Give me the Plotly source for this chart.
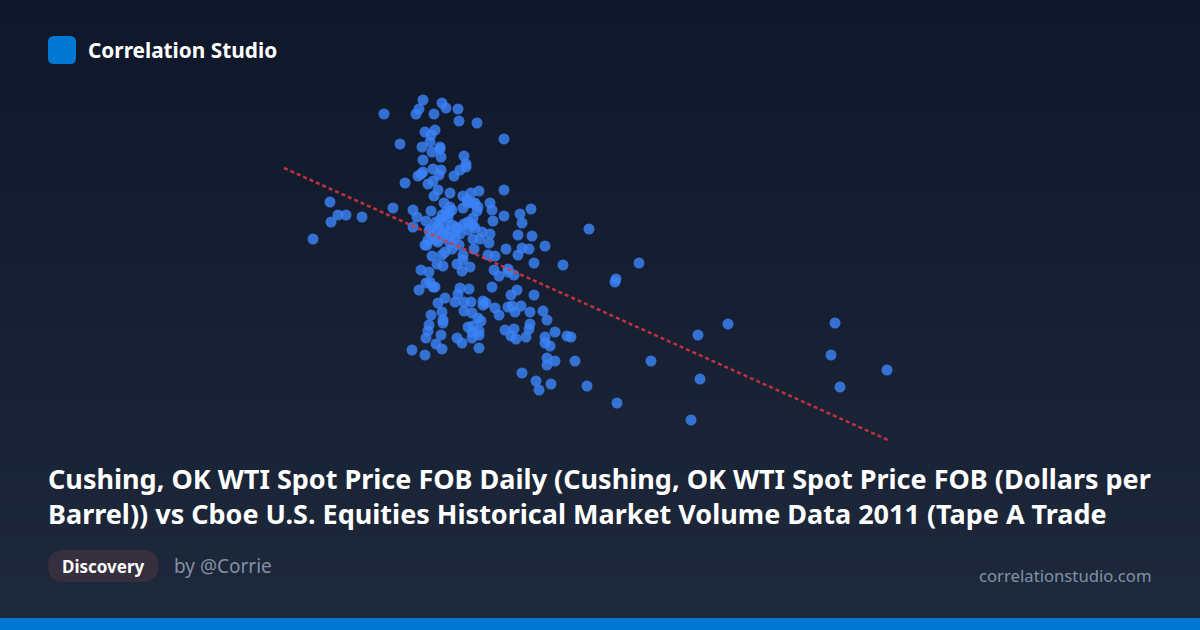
import plotly.graph_objects as go

# Values (chart has no visible axes; units are arbitrary score units)
x_values = [143,139,136,104,162,166,178,154,179,197,
            224,145,155,151,150,120,142,160,160,152,
            161,184,143,186,186,180,153,161,159,143,
            141,138,174,125,153,148,158,170,199,224,
            154,191,183,164,113,133,151,210,212,187,
            193,198,197,183,170,224,251,240,242,213,
            193,137,146,133,165,172,160,168,193,176,
            195,188,169,150,158,148,147,158,167,175,
            180,170,163,195,188,202,210,193,200,209,
            238,252,265,242,249,226,238,194,179,172,
            165,162,152,208,215,254,283,183,183,177,
            190,182,163,157,141,149,214,219,228,228,
            234,150,146,153,139,180,189,212,237,155,
            231,254,165,178,158,175,184,191,203,206,
            203,215,219,228,232,241,235,250,263,267,
            184,192,151,162,163,163,198,201,149,148,
            146,161,188,193,199,199,192,192,177,182,
            156,162,132,145,199,225,234,231,236,246,
            250,249,275,265,265,270,287,291,267,275,
            267,295,242,256,271,259,307,
            309,336,335,359,418,448,555,551,371,420,
            560,607,337,411,
            50,33,51,58,66,82,
            156,162,166,158,172,165,152,149,178,184,
            188,162,156,170,145,175]
y_values = [340,331,326,326,337,332,331,326,319,317,
            301,308,310,305,298,296,293,293,291,288,
            283,284,280,276,273,270,271,270,265,268,
            266,264,264,257,259,256,250,247,249,250,
            244,247,244,237,232,230,229,237,230,240,
            237,233,229,232,233,224,231,226,217,219,
            222,223,219,213,223,230,220,222,215,213,
            237,237,227,211,210,200,195,198,208,207,
            206,203,202,212,210,208,206,201,201,197,
            205,204,194,192,191,191,185,191,195,191,
            188,185,184,185,184,177,175,185,180,176,
            173,169,174,176,170,168,170,164,171,168,
            165,158,157,153,150,152,151,153,150,153,
            145,145,142,146,137,138,138,138,139,137,
            135,132,125,133,134,134,128,128,129,120,
            129,127,125,128,120,117,122,119,115,109,
            102,105,113,114,109,105,108,102,102,97,
            96,91,90,85,92,110,111,104,101,103,
            116,111,108,103,97,94,104,103,82,79,
            75,79,67,59,56,50,54,
            211,161,158,177,105,116,117,85,79,61,
            53,70,37,20,
            238,201,218,225,225,223,
            218,225,228,214,215,212,204,209,212,216,
            218,205,200,197,195,202]
trend_x = [4, 608]
trend_y = [272, 0]

title_lines = ["Cushing, OK WTI Spot Price FOB Daily (Cushing, OK WTI Spot Price FOB (Dollars per",
               "Barrel)) vs Cboe U.S. Equities Historical Market Volume Data 2011 (Tape A Trade"]
brand = "Correlation Studio"
tag = "Discovery"
author = "by @Corrie"
site = "correlationstudio.com"

W, H = 1200, 630
FONT = "Noto Sans"
top_rgb = (15, 23, 42)
bot_rgb = (30, 41, 59)

shapes = []
N = 105
for i in range(N):
    t = i / (N - 1)
    c = tuple(round(a + (b - a) * t) for a, b in zip(top_rgb, bot_rgb))
    shapes.append(dict(type="rect", xref="paper", yref="paper", x0=0, x1=1,
                       y0=1 - (i + 1) / N, y1=1 - i / N, layer="below",
                       line=dict(width=0), fillcolor=f"rgb{c}"))

def rrect(x0, y0, x1, y1, r, color):
    path = (f"M {x0+r},{H-y0} L {x1-r},{H-y0} Q {x1},{H-y0} {x1},{H-y0-r} "
            f"L {x1},{H-y1+r} Q {x1},{H-y1} {x1-r},{H-y1} L {x0+r},{H-y1} "
            f"Q {x0},{H-y1} {x0},{H-y1+r} L {x0},{H-y0-r} Q {x0},{H-y0} {x0+r},{H-y0} Z")
    return dict(type="path", xref="x2", yref="y2", path=path, layer="below",
                line=dict(width=0), fillcolor=color)

shapes.append(rrect(48, 36, 76, 64, 6, "#0078d4"))
shapes.append(rrect(48, 550, 158.5, 582, 16, "#352f3e"))
shapes.append(dict(type="rect", xref="paper", yref="paper", x0=0, x1=1, y0=0, y1=12 / H,
                   layer="below", line=dict(width=0), fillcolor="#0078d4"))

def txt(x, y, s, size, color, weight=400, anchor="left"):
    return dict(xref="paper", yref="paper", x=x / W, y=1 - y / H, text=s, showarrow=False,
                xanchor=anchor, yanchor="middle", align=anchor, xshift=-2 if anchor == "left" else 3,
                font=dict(family=FONT, size=size, color=color, weight=weight))

annotations = [
    txt(88, 50, brand, 20.8, "#ffffff", 700),
    txt(48, 495.5, "<br>".join(title_lines), 27, "#ffffff", 700),
    txt(62, 566, tag, 17, "#ffffff", 700),
    txt(174, 566, author, 19, "#8290a6"),
    txt(1151, 575, site, 16.7, "#8290a6", 400, "right"),
]

fig = go.Figure()
fig.add_trace(go.Scatter(x=x_values, y=y_values, mode="markers", cliponaxis=False,
                         marker=dict(size=11, color="#3b82f6", opacity=0.82, line=dict(width=0)),
                         hoverinfo="skip"))
fig.add_trace(go.Scatter(x=trend_x, y=trend_y, mode="lines", cliponaxis=False,
                         line=dict(color="#e0353f", width=2.5, dash="4px,3px"), opacity=0.85,
                         hoverinfo="skip"))
# invisible helper trace on a full-canvas pixel axis so rounded shapes can be placed
fig.add_trace(go.Scatter(x=[0], y=[0], xaxis="x2", yaxis="y2", mode="markers",
                         marker=dict(opacity=0), hoverinfo="skip"))

hidden = dict(visible=False, showgrid=False, zeroline=False, fixedrange=True)
fig.update_layout(
    width=W, height=H, autosize=False, showlegend=False,
    margin=dict(l=0, r=0, t=0, b=0),
    paper_bgcolor="#0f172a", plot_bgcolor="rgba(0,0,0,0)",
    xaxis=dict(range=[-280, 920], domain=[0, 1], **hidden),
    yaxis=dict(range=[-190, 440], domain=[0, 1], **hidden),
    xaxis2=dict(range=[0, W], domain=[0, 1], overlaying="x", anchor="y2", **hidden),
    yaxis2=dict(range=[0, H], domain=[0, 1], overlaying="y", anchor="x2", **hidden),
    shapes=shapes, annotations=annotations,
)
assert len(x_values) == len(y_values)
fig.write_html("out.html", config=dict(displayModeBar=False),
               post_script="document.body.style.margin='0';document.documentElement.style.background='#0f172a';")
